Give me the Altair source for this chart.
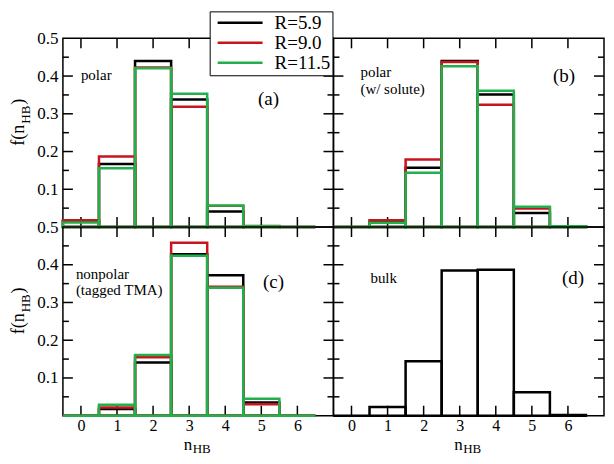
import altair as alt
import pandas as pd

W = 271
H = 189
SERIF = "Liberation Serif, Times New Roman, serif"

bins = [0, 1, 2, 3, 4, 5, 6]
series_names = ["R=5.9", "R=9.0", "R=11.5"]
series_colors = ["#000000", "#c8141e", "#21b04b"]

# panel (a) polar
a_R59 = [0.015, 0.167, 0.440, 0.338, 0.041, 0.002, 0.0]
a_R90 = [0.018, 0.187, 0.423, 0.319, 0.056, 0.003, 0.0]
a_R115 = [0.012, 0.156, 0.421, 0.353, 0.057, 0.002, 0.0]
# panel (b) polar (w/ solute)
b_R59 = [0.0, 0.014, 0.157, 0.440, 0.351, 0.037, 0.002]
b_R90 = [0.0, 0.018, 0.179, 0.437, 0.324, 0.049, 0.002]
b_R115 = [0.0, 0.011, 0.144, 0.426, 0.361, 0.054, 0.002]
# panel (c) nonpolar (tagged TMA)
c_R59 = [0.0, 0.018, 0.141, 0.428, 0.372, 0.035, 0.0]
c_R90 = [0.0, 0.022, 0.155, 0.458, 0.342, 0.030, 0.0]
c_R115 = [0.0, 0.029, 0.161, 0.424, 0.339, 0.045, 0.0]
# panel (d) bulk
d_bulk = [0.0, 0.023, 0.144, 0.385, 0.387, 0.062, 0.002]

y_major = [0.1, 0.2, 0.3, 0.4]
y_minor = [0.05, 0.15, 0.25, 0.35, 0.45]
y_labels = [0.1, 0.2, 0.3, 0.4, 0.5]


def make_df(series, names):
    rows = []
    for name, vals in zip(names, series):
        for n, v in zip(bins, vals):
            rows.append({"R": name, "lo": n - 0.5, "hi": n + 0.5, "v": v, "base": 0.0})
    return pd.DataFrame(rows)


xscale = alt.Scale(domain=[-0.5, 7], nice=False, zero=False)
yscale = alt.Scale(domain=[0, 0.5], nice=False, zero=False)

legend = alt.Legend(
    orient="none", legendX=147, legendY=-27, title=None,
    symbolType="M-2.8125,0H2.8125", symbolSize=256, symbolStrokeWidth=2.5,
    labelFont=SERIF, labelFontSize=19, labelColor="black",
    fillColor="white", strokeColor="black", padding=2, rowPadding=0,
    labelOffset=25, symbolOffset=19, cornerRadius=0,
)


def ticks_layers(xaxis, yaxis):
    xt = pd.DataFrame({"t": bins})
    ymj = pd.DataFrame({"t": y_major})
    ymn = pd.DataFrame({"t": y_minor})
    rule = dict(color="black", strokeWidth=1.5)
    xs = alt.X("t:Q", scale=xscale, axis=xaxis)
    ys = alt.Y("t:Q", scale=yscale, axis=yaxis)
    return [
        alt.Chart(xt).mark_rule(**rule).encode(x=xs, y=alt.value(0), y2=alt.value(10)),
        alt.Chart(xt).mark_rule(**rule).encode(x=xs, y=alt.value(H), y2=alt.value(H - 10)),
        alt.Chart(ymj).mark_rule(**rule).encode(y=ys, x=alt.value(0), x2=alt.value(10)),
        alt.Chart(ymj).mark_rule(**rule).encode(y=ys, x=alt.value(W), x2=alt.value(W - 10)),
        alt.Chart(ymn).mark_rule(**rule).encode(y=ys, x=alt.value(0), x2=alt.value(6)),
        alt.Chart(ymn).mark_rule(**rule).encode(y=ys, x=alt.value(W), x2=alt.value(W - 6)),
    ]


def text_mark(txt, x, y, size, align="left", angle=0, baseline="middle"):
    return alt.Chart(pd.DataFrame({"t": [txt]})).mark_text(
        font=SERIF, fontSize=size, color="black", align=align,
        baseline=baseline, angle=angle, lineHeight=17,
    ).encode(text="t:N", x=alt.value(x), y=alt.value(y))


def panel(df, texts, letter, letter_xy, left, bottom, single=False):
    if bottom:
        xaxis = alt.Axis(values=bins, ticks=False, tickSize=0, domain=False, grid=False,
                         labelFont=SERIF, labelFontSize=16, labelColor="black",
                         labelPadding=2, title=None)
    else:
        xaxis = None
    if left:
        yaxis = alt.Axis(values=y_labels, format=".1f", ticks=False, tickSize=0, domain=False,
                         grid=False, labelFont=SERIF, labelFontSize=17, labelColor="black",
                         labelPadding=5, title=None)
    else:
        yaxis = None
    if single:
        stroke = alt.value("black")
    else:
        stroke = alt.Stroke("R:N", scale=alt.Scale(domain=series_names, range=series_colors),
                            legend=legend, sort=series_names)
    bars = alt.Chart(df).mark_bar(fillOpacity=0, strokeWidth=2.5).encode(
        x=alt.X("lo:Q", scale=xscale, axis=xaxis),
        x2="hi:Q",
        y=alt.Y("v:Q", scale=yscale, axis=yaxis),
        y2="base:Q",
        stroke=stroke,
    )
    layers = ticks_layers(xaxis, yaxis) + [bars]
    for (txt, x, y) in texts:
        layers.append(text_mark(txt, x, y, 15))
    layers.append(text_mark(letter, letter_xy[0], letter_xy[1], 19, align="center"))
    if left:
        cy = H / 2 - 9
        layers.append(text_mark("f(n", -39, cy + 22, 18, angle=270, baseline="alphabetic"))
        layers.append(text_mark("HB", -33, cy + 0, 13, angle=270, baseline="alphabetic"))
        layers.append(text_mark(")", -39, cy - 19, 18, angle=270, baseline="alphabetic"))
    if bottom:
        layers.append(text_mark("n", 121, H + 34, 17, baseline="alphabetic"))
        layers.append(text_mark("HB", 130, H + 37, 13, baseline="alphabetic"))
    return alt.layer(*layers).properties(width=W, height=H)


dfa = make_df([a_R59, a_R90, a_R115], series_names)
dfb = make_df([b_R59, b_R90, b_R115], series_names)
dfc = make_df([c_R59, c_R90, c_R115], series_names)
dfd = make_df([d_bulk], ["bulk"])

pa = panel(dfa, [("polar", 18, 37)], "(a)", (206, 61), left=True, bottom=False)
pb = panel(dfb, [("polar", 27, 34), ("(w/ solute)", 27, 51)], "(b)", (231, 38), left=False, bottom=False)
pc = panel(dfc, [("nonpolar", 13, 47), ("(tagged TMA)", 13, 63)], "(c)", (211, 55), left=True, bottom=True)
pdd = panel(dfd, [("bulk", 37, 51)], "(d)", (240, 51), left=False, bottom=True, single=True)

chart = alt.concat(pa, pb, pc, pdd, columns=2, spacing=0, bounds="flush").properties(
    padding={"left": 1, "top": 2, "right": 0, "bottom": 0},
    background="white",
).configure_view(stroke="black", strokeWidth=1.5)

chart.save("out.html", embed_options={"renderer": "svg", "actions": False})
